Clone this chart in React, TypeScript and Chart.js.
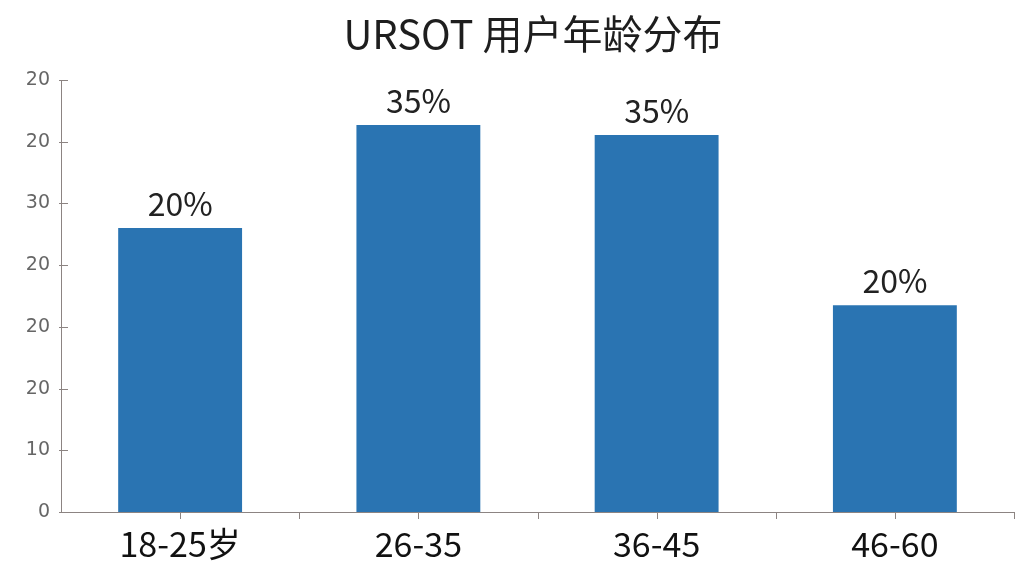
import { useEffect, useRef } from "react";
import { Chart, registerables } from "chart.js";

Chart.register(...registerables);

const titleText = "URSOT 用户年龄分布";
const categories = ["18-25岁", "26-35", "36-45", "46-60"];
const values = [46, 62.7, 61.1, 33.5];
const valueLabels = ["20%", "35%", "35%", "20%"];
// tick labels as printed on the y axis, from 0 upward
const yTickLabels = ["0", "10", "20", "20", "20", "30", "20", "20"];

const axisColor = "#8c8482";
const cjkFont = "'Noto Sans CJK SC', 'Noto Sans', sans-serif";

// title, value labels above bars, and the small tick marks on both axes
const extras = {
  id: "extras",
  afterDatasetsDraw(chart: Chart) {
    const ctx = chart.ctx;
    const area = chart.chartArea;
    ctx.save();

    ctx.fillStyle = "#1e1e1e";
    ctx.font = `40px ${cjkFont}`;
    ctx.textAlign = "center";
    ctx.textBaseline = "alphabetic";
    ctx.fillText(titleText, 533, 49);

    ctx.fillStyle = "#222";
    ctx.font = `32px ${cjkFont}`;
    const meta = chart.getDatasetMeta(0);
    meta.data.forEach((bar: any, i: number) => {
      ctx.fillText(valueLabels[i], bar.x, bar.y - 12);
    });

    ctx.strokeStyle = axisColor;
    ctx.lineWidth = 1;
    ctx.beginPath();
    const xScale = chart.scales.x;
    const half = (xScale.getPixelForValue(1) - xScale.getPixelForValue(0)) / 2;
    categories.forEach((_, i) => {
      const cx = Math.round(xScale.getPixelForValue(i)) + 0.5;
      ctx.moveTo(cx, area.bottom);
      ctx.lineTo(cx, area.bottom + 7);
      const bx = Math.round(xScale.getPixelForValue(i) + half) + 0.5;
      ctx.moveTo(bx, area.bottom);
      ctx.lineTo(bx, area.bottom + 7);
    });
    const yScale = chart.scales.y;
    yTickLabels.forEach((_, i) => {
      const y = Math.round(yScale.getPixelForValue(i * 10)) + 0.5;
      ctx.moveTo(area.left - 2, y);
      ctx.lineTo(area.left + 7, y);
    });
    ctx.stroke();
    ctx.restore();
  },
};

function AgeChart() {
  const chartRef = useRef<HTMLCanvasElement>(null);
  const chartInstance = useRef<Chart | null>(null);

  useEffect(() => {
    if (!chartRef.current) return;
    if (chartInstance.current) chartInstance.current.destroy();
    const ctx = chartRef.current.getContext("2d");
    if (!ctx) return;

    chartInstance.current = new Chart(ctx, {
      type: "bar",
      data: {
        labels: categories,
        datasets: [
          {
            data: values,
            backgroundColor: "#2a74b2",
            borderWidth: 0,
            barPercentage: 0.52,
            categoryPercentage: 1,
          },
        ],
      },
      options: {
        responsive: true,
        maintainAspectRatio: false,
        animation: false,
        layout: { padding: { left: 0, right: 10, top: 80, bottom: 0 } },
        scales: {
          y: {
            min: 0,
            max: 70,
            ticks: {
              stepSize: 10,
              color: "#666",
              padding: 11,
              font: { family: "'DejaVu Sans', sans-serif", size: 19 },
              callback: (_v: any, i: number) => yTickLabels[i],
            },
            grid: { display: false, drawTicks: false },
            border: { color: axisColor, width: 1 },
            afterFit: (scale: any) => {
              scale.width = 61;
            },
          },
          x: {
            ticks: {
              color: "#111",
              padding: 4,
              font: { family: cjkFont, size: 34 },
            },
            grid: { display: false },
            border: { color: axisColor, width: 1 },
            afterFit: (scale: any) => {
              scale.height = 64;
            },
          },
        },
        plugins: {
          legend: { display: false },
          tooltip: { enabled: false },
          title: { display: false },
        },
      },
      plugins: [extras],
    });

    return () => {
      if (chartInstance.current) {
        chartInstance.current.destroy();
        chartInstance.current = null;
      }
    };
  }, []);

  return (
    <div style={{ position: "fixed", left: 0, top: 0, width: 1024, height: 576, background: "#fff" }}>
      <canvas ref={chartRef} />
    </div>
  );
}

export default function App() {
  return <AgeChart />;
}
